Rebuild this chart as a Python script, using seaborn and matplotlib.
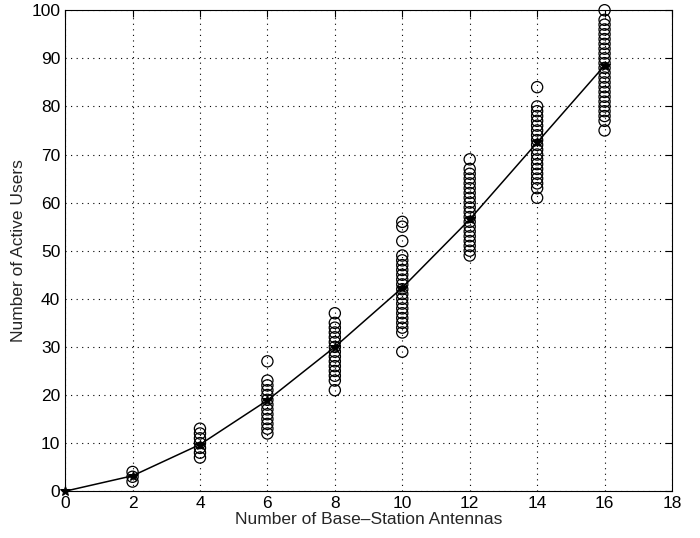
import numpy as np
import pandas as pd
import matplotlib
matplotlib.use("Agg")
import matplotlib.pyplot as plt
import seaborn as sns

# mean curve (through origin)
antennas = [0, 2, 4, 6, 8, 10, 12, 14, 16]
mean_users = [0, 3.2, 9.7, 18.9, 30.0, 42.3, 56.5, 72.5, 88.5]

# observed numbers of active users per antenna count
users_2 = [2, 3, 4]
users_4 = [7, 8, 9, 10, 11, 12, 13]
users_6 = list(range(12, 24)) + [27]
users_8 = [21] + list(range(23, 36)) + [37]
users_10 = [29] + list(range(33, 50)) + [52, 55, 56]
users_12 = list(range(49, 68)) + [69]
users_14 = [61] + list(range(63, 81)) + [84]
users_16 = [75] + list(range(77, 99)) + [100]

groups = {2: users_2, 4: users_4, 6: users_6, 8: users_8,
          10: users_10, 12: users_12, 14: users_14, 16: users_16}
rows = [(k, v) for k, vals in groups.items() for v in vals]
df = pd.DataFrame(rows, columns=["antennas", "users"])
df_mean = pd.DataFrame({"antennas": antennas, "users": mean_users})

sns.set_style("white")
plt.rcParams["font.family"] = ["Liberation Sans", "DejaVu Sans"]

fig = plt.figure(figsize=(7, 5.38), dpi=100)
ax = fig.add_axes([0.093, 0.087, 0.867, 0.894])

sns.scatterplot(data=df, x="antennas", y="users", ax=ax, marker="o", s=65,
                facecolor="none", edgecolor="black", linewidth=0.9, zorder=3,
                clip_on=False)
sns.lineplot(data=df_mean, x="antennas", y="users", ax=ax, color="black",
             linewidth=1.1, marker="*", markersize=7, markeredgecolor="black",
             zorder=4, clip_on=False)

ax.set_xlim(0, 18)
ax.set_ylim(0, 100)
ax.set_xticks(range(0, 19, 2))
ax.set_yticks(range(0, 101, 10))
ax.grid(True, linestyle=(0, (1, 4)), color="black", linewidth=0.8)
for sp in ax.spines.values():
    sp.set_color("black")
    sp.set_linewidth(0.8)
ax.tick_params(direction="in", length=5, top=True, right=True,
               labelsize=12.5, colors="black", width=0.8)
ax.set_xlabel("Number of Base\u2013Station Antennas", fontsize=12.5, labelpad=1)
ax.set_ylabel("Number of Active Users", fontsize=12.5, labelpad=4)

fig.savefig("out.png", dpi=100)
